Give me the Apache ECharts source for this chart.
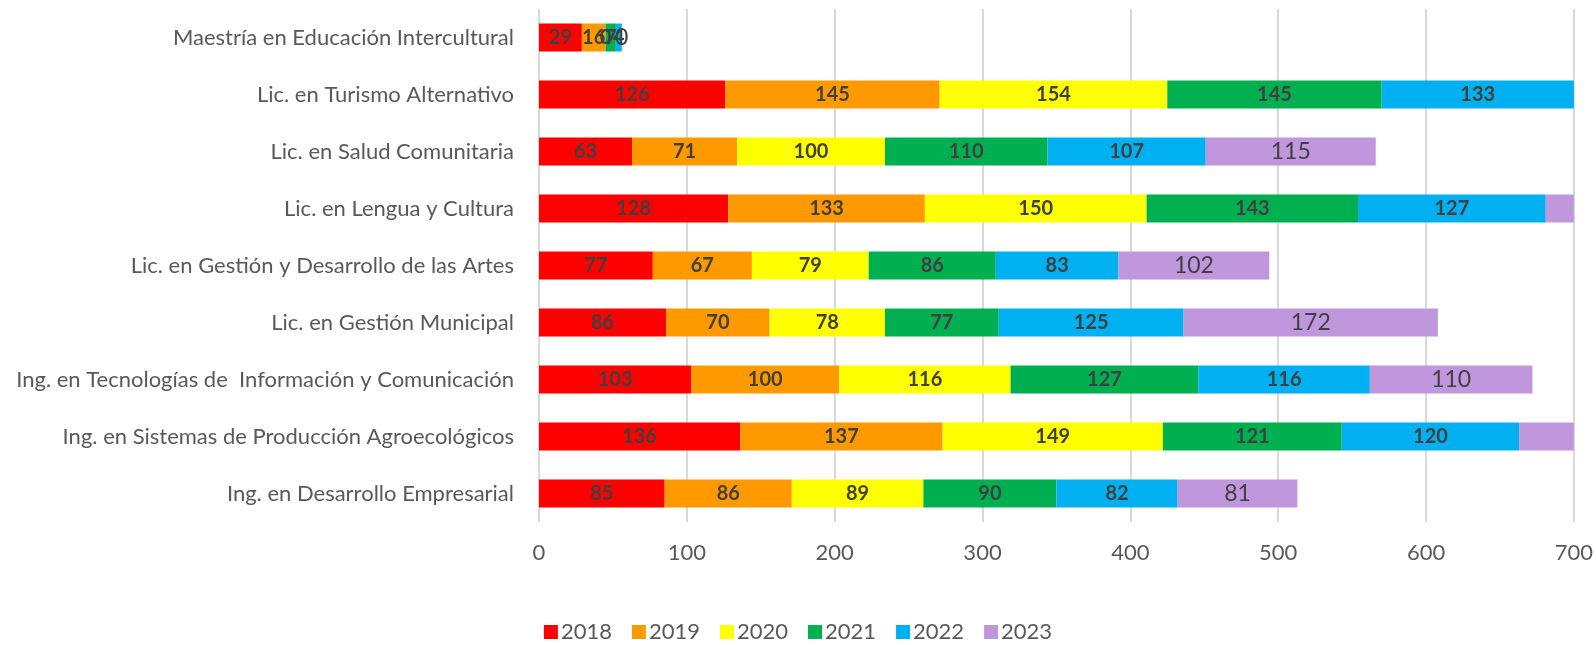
<!DOCTYPE html>
<html>
<head>
<meta charset="utf-8">
<script src="https://cdn.jsdelivr.net/npm/echarts@6/dist/echarts.min.js"></script>
<style>
html, body { margin: 0; padding: 0; background: #fff; }
#chart { width: 1596px; height: 645px; }
</style>
</head>
<body>
<div id="chart"></div>
<script>
// programas, de arriba hacia abajo
const programas = [
  'Maestría en Educación Intercultural',
  'Lic. en Turismo Alternativo',
  'Lic. en Salud Comunitaria',
  'Lic. en Lengua y Cultura',
  'Lic. en Gestión y Desarrollo de las Artes',
  'Lic. en Gestión Municipal',
  'Ing. en Tecnologías de  Información y Comunicación',
  'Ing. en Sistemas de Producción Agroecológicos',
  'Ing. en Desarrollo Empresarial'
]
const anios = ['2018', '2019', '2020', '2021', '2022', '2023']

const v2018 = [29, 126, 63, 128, 77, 86, 103, 136, 85]
const v2019 = [16, 145, 71, 133, 67, 70, 100, 137, 86]
const v2020 = [0, 154, 100, 150, 79, 78, 116, 149, 89]
const v2021 = [7, 145, 110, 143, 86, 77, 127, 121, 90]
const v2022 = [4, 133, 107, 127, 83, 125, 116, 120, 82]
// los de 2023 en Turismo, Lengua y Sistemas quedan cortados por el eje (estimados)
const v2023 = [0, 120, 115, 125, 102, 172, 110, 130, 81]

const ejeTicks = [0, 100, 200, 300, 400, 500, 600, 700]
const colores = ['#FF0000', '#FF9900', '#FFFF00', '#00B050', '#00B0F0', '#C096DC']

const valores = [v2018, v2019, v2020, v2021, v2022, v2023]
const xMax = ejeTicks[ejeTicks.length - 1]

const chart = echarts.init(document.getElementById('chart'))

const series = anios.map((anio, s) => ({
  name: anio,
  type: 'bar',
  stack: 'total',
  barWidth: 28,
  data: valores[s],
  itemStyle: { color: colores[s] },
  label: {
    show: true,
    position: 'inside',
    color: '#404040',
    fontFamily: 'Lato',
    fontWeight: s === 5 ? 'normal' : 'bold',
    fontSize: s === 5 ? 23 : 20,
    formatter: p => {
      // ocultar etiqueta si el tramo sale del eje
      let fin = 0
      for (let k = 0; k <= s; k++) fin += valores[k][p.dataIndex]
      if (fin - p.value / 2 > xMax) return ''
      return p.value
    }
  }
}))

const option = {
  animation: false,
  grid: { left: 539, right: 21, top: 9, bottom: 123 },
  legend: {
    bottom: -3,
    left: 'center',
    itemWidth: 14,
    itemHeight: 14,
    itemGap: 20,
    icon: 'rect',
    textStyle: { fontFamily: 'Lato', fontSize: 22, color: '#595959', padding: [0, 0, 0, -2] },
    data: anios
  },
  xAxis: {
    type: 'value',
    min: 0,
    max: xMax,
    interval: 100,
    axisLine: { show: false },
    axisTick: { show: false },
    axisLabel: { fontFamily: 'Lato', fontSize: 22, color: '#595959', margin: 20 },
    splitLine: { lineStyle: { color: '#D9D9D9', width: 2 } }
  },
  yAxis: {
    type: 'category',
    inverse: true,
    data: programas,
    axisLine: { show: false },
    axisTick: { show: false },
    axisLabel: { fontFamily: 'Lato', fontSize: 22, color: '#595959', margin: 25 }
  },
  series: series
}

chart.setOption(option)
</script>
</body>
</html>
